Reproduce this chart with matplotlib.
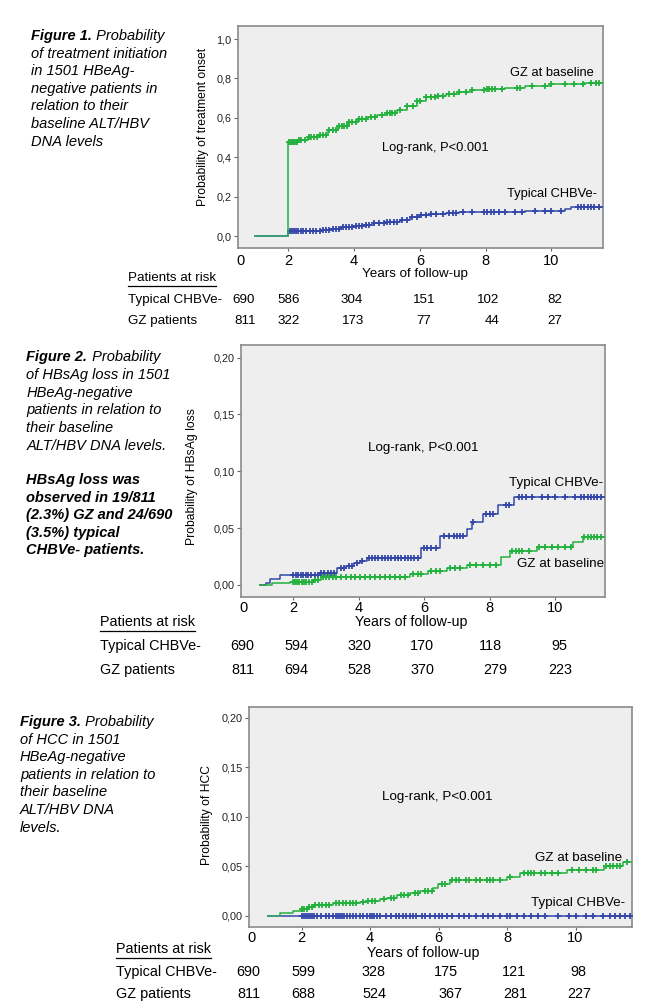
import matplotlib

matplotlib.use("Agg")
import matplotlib.pyplot as plt
import numpy as np
from matplotlib.lines import Line2D

plt.rcParams["font.family"] = ["Liberation Sans", "DejaVu Sans"]

W, H = 669, 1008
GREEN = "#22b13c"
BLUE = "#3447a8"
POOLED = "#3f9c86"
BG = "#eeeeee"

# ---------------- data ----------------
# Figure 1: treatment onset
f1_gz_t = [1.0, 2.0, 2.3, 2.6, 2.9, 3.2, 3.5, 3.8, 4.1, 4.4, 4.7, 5.0, 5.3, 5.6,
           5.9, 6.2, 6.5, 6.8, 7.2, 7.6, 8.0, 8.6, 9.2, 10.0, 11.0, 11.57]
f1_gz_p = [0.0, 0.48, 0.49, 0.505, 0.515, 0.54, 0.56, 0.58, 0.595, 0.605, 0.615,
           0.627, 0.64, 0.66, 0.685, 0.705, 0.712, 0.722, 0.732, 0.74, 0.748,
           0.752, 0.762, 0.77, 0.775, 0.775]
f1_ty_t = [1.0, 2.0, 2.5, 3.0, 3.3, 3.6, 4.0, 4.3, 4.6, 5.0, 5.4, 5.7, 6.0, 6.3,
           6.8, 7.2, 8.8, 9.2, 10.4, 10.6, 11.57]
f1_ty_p = [0.0, 0.025, 0.027, 0.03, 0.035, 0.045, 0.052, 0.06, 0.068, 0.075,
           0.085, 0.097, 0.108, 0.113, 0.118, 0.122, 0.125, 0.13, 0.137, 0.148,
           0.15]
f1_gz_cens = [2.02, 2.06, 2.1, 2.14, 2.18, 2.22, 2.26, 2.32, 2.4, 2.5, 2.62, 2.7,
              2.78, 2.86, 2.95, 3.05, 3.15, 3.25, 3.35, 3.45, 3.55, 3.62, 3.7,
              3.78, 3.86, 3.95, 4.05, 4.15, 4.25, 4.35, 4.5, 4.65, 4.85, 5.0,
              5.08, 5.16, 5.25, 5.4, 5.6, 5.8, 5.9, 6.0, 6.2, 6.35, 6.45, 6.55,
              6.7, 6.9, 7.05, 7.2, 7.4, 7.6, 7.95, 8.05, 8.1, 8.2, 8.3, 8.5,
              8.95, 9.05, 9.4, 9.8, 10.0, 10.4, 10.7, 10.95, 11.2, 11.35, 11.45]
f1_ty_cens = [2.04, 2.1, 2.16, 2.22, 2.3, 2.38, 2.46, 2.55, 2.65, 2.75, 2.85,
              2.95, 3.05, 3.15, 3.25, 3.35, 3.45, 3.55, 3.65, 3.75, 3.85, 3.95,
              4.05, 4.15, 4.25, 4.35, 4.45, 4.6, 4.75, 4.9, 5.0, 5.1, 5.2, 5.3,
              5.45, 5.6, 5.75, 5.9, 6.05, 6.2, 6.35, 6.5, 6.7, 6.9, 7.0, 7.1,
              7.3, 7.6, 7.95, 8.05, 8.15, 8.25, 8.4, 8.6, 8.9, 9.1, 9.5, 9.8,
              10.0, 10.3, 10.8, 10.9, 11.0, 11.1, 11.2, 11.3, 11.45]

# Figure 2: HBsAg loss
f2_ty_t = [0.98, 1.15, 1.3, 1.6, 2.8, 3.35, 3.6, 3.85, 4.05, 4.25, 5.9, 6.5, 7.3,
           7.45, 7.8, 8.25, 8.75, 11.53]
f2_ty_p = [0.0, 0.002, 0.005, 0.009, 0.0105, 0.0145, 0.017, 0.019, 0.021, 0.0235,
           0.0323, 0.0431, 0.0495, 0.0557, 0.0627, 0.0701, 0.0774, 0.0774]
f2_gz_t = [0.98, 1.35, 1.9, 2.6, 2.85, 5.57, 6.13, 6.7, 7.3, 8.35, 8.62, 9.44,
           10.56, 10.87, 11.53]
f2_gz_p = [0.0, 0.0015, 0.0023, 0.0044, 0.0067, 0.0094, 0.0123, 0.0147, 0.0173,
           0.0249, 0.0302, 0.0337, 0.0381, 0.0425, 0.0425]
f2_ty_cens = [2.0, 2.08, 2.15, 2.22, 2.3, 2.38, 2.45, 2.55, 2.65, 2.75, 2.85,
              2.95, 3.05, 3.15, 3.25, 3.45, 3.55, 3.7, 3.8, 3.95, 4.1, 4.3, 4.4,
              4.5, 4.6, 4.7, 4.8, 4.9, 5.0, 5.1, 5.2, 5.3, 5.4, 5.5, 5.6, 5.7,
              5.8, 6.0, 6.1, 6.2, 6.35, 6.6, 6.75, 6.9, 7.0, 7.1, 7.2, 7.5, 7.9,
              8.0, 8.1, 8.5, 8.6, 8.9, 9.0, 9.1, 9.3, 9.6, 9.8, 10.0, 10.3,
              10.6, 10.8, 10.9, 11.0, 11.1, 11.2, 11.3, 11.4]
f2_gz_cens = [2.0, 2.06, 2.12, 2.18, 2.25, 2.32, 2.4, 2.48, 2.56, 2.65, 2.75,
              2.9, 3.0, 3.1, 3.2, 3.3, 3.45, 3.6, 3.75, 3.9, 4.05, 4.2, 4.35,
              4.5, 4.65, 4.8, 4.95, 5.1, 5.25, 5.4, 5.65, 5.8, 5.9, 6.2, 6.35,
              6.5, 6.8, 6.95, 7.1, 7.4, 7.6, 7.8, 8.0, 8.2, 8.7, 8.8, 8.9, 9.0,
              9.2, 9.5, 9.7, 9.9, 10.1, 10.3, 10.5, 10.9, 11.0, 11.1, 11.2, 11.3,
              11.4]

# Figure 3: HCC
f3_gz_t = [1.02, 1.36, 1.75, 2.0, 2.19, 2.34, 2.92, 3.7, 3.9, 4.29, 4.48, 4.77,
           5.16, 5.46, 5.85, 5.99, 6.33, 7.99, 8.38, 9.75, 10.82, 11.4, 11.65]
f3_gz_p = [0.0, 0.0024, 0.0051, 0.0064, 0.0084, 0.011, 0.0125, 0.0138, 0.0152,
           0.0168, 0.0182, 0.0209, 0.0226, 0.0253, 0.0283, 0.032, 0.036, 0.0394,
           0.0428, 0.0462, 0.0502, 0.0545, 0.0545]
f3_ty_t = [1.02, 11.65]
f3_ty_p = [0.0, 0.0]
f3_gz_cens = [2.02, 2.08, 2.14, 2.22, 2.3, 2.4, 2.5, 2.6, 2.7, 2.8, 3.0, 3.1,
              3.2, 3.3, 3.4, 3.5, 3.6, 3.8, 3.95, 4.05, 4.15, 4.4, 4.6, 4.7,
              4.9, 5.0, 5.1, 5.3, 5.4, 5.6, 5.7, 5.8, 6.1, 6.2, 6.4, 6.5, 6.6,
              6.8, 6.9, 7.1, 7.2, 7.4, 7.5, 7.6, 7.8, 8.1, 8.5, 8.6, 8.7, 8.8,
              9.0, 9.1, 9.3, 9.5, 9.9, 10.1, 10.3, 10.5, 10.6, 10.9, 11.0, 11.1,
              11.2, 11.3, 11.5]
f3_ty_cens = [2.0, 2.06, 2.12, 2.18, 2.24, 2.3, 2.36, 2.45, 2.55, 2.7, 2.8, 2.9,
              3.0, 3.06, 3.12, 3.18, 3.25, 3.32, 3.4, 3.5, 3.6, 3.7, 3.8, 3.9,
              4.0, 4.06, 4.12, 4.2, 4.3, 4.45, 4.6, 4.75, 4.85, 4.95, 5.05, 5.15,
              5.25, 5.35, 5.5, 5.6, 5.75, 5.9, 6.0, 6.1, 6.25, 6.4, 6.6, 6.75,
              6.9, 7.1, 7.3, 7.45, 7.6, 7.8, 8.0, 8.1, 8.3, 8.5, 8.7, 8.9, 9.1,
              9.5, 9.8, 10.0, 10.3, 10.5, 10.8, 11.0, 11.15, 11.3, 11.45, 11.6]

risk_years = [0, 2, 4, 6, 8, 10]
f1_risk_ty = [690, 586, 304, 151, 102, 82]
f1_risk_gz = [811, 322, 173, 77, 44, 27]
f2_risk_ty = [690, 594, 320, 170, 118, 95]
f2_risk_gz = [811, 694, 528, 370, 279, 223]
f3_risk_ty = [690, 599, 328, 175, 121, 98]
f3_risk_gz = [811, 688, 524, 367, 281, 227]

f1_caption = ["Probability", "of treatment initiation", "in 1501 HBeAg-",
              "negative patients in", "relation to their", "baseline ALT/HBV",
              "DNA levels"]
f2_caption = ["Probability", "of HBsAg loss in 1501", "HBeAg-negative",
              "patients in relation to", "their baseline", "ALT/HBV DNA levels."]
f2_note = ["HBsAg loss was", "observed in 19/811", "(2.3%) GZ and 24/690",
           "(3.5%) typical", "CHBVe- patients."]
f3_caption = ["Probability", "of HCC in 1501", "HBeAg-negative",
              "patients in relation to", "their baseline", "ALT/HBV DNA",
              "levels."]


def fx(x):
    return x / W


def fy(y):
    return 1 - y / H


def step_value(times, probs, t):
    idx = np.searchsorted(times, t, side="right") - 1
    return np.asarray(probs)[np.clip(idx, 0, len(probs) - 1)]


def km(ax, t, p, cens, color):
    ax.plot(t, p, drawstyle="steps-post", color=color, lw=1.1, zorder=3)
    ax.plot(cens, step_value(t, p, cens), ls="none", marker="+", ms=4.0,
            mew=1.3, color=color, zorder=3)


fig = plt.figure(figsize=(W / 100, H / 100), dpi=100)
renderer = fig.canvas.get_renderer()


def make_axes(box, xlim, ylim, yticks, ylabels, ylabel, ylab_xy, xpad):
    left, right, top, bottom = box
    ax = fig.add_axes([fx(left), fy(bottom), (right - left) / W, (bottom - top) / H])
    ax.set_facecolor(BG)
    ax.set_xlim(*xlim)
    ax.set_ylim(*ylim)
    ax.set_xticks([xlim[0] + 0.08, 2, 4, 6, 8, 10])
    ax.set_xticklabels(["0", "2", "4", "6", "8", "10"], fontsize=10.5)
    ax.set_yticks(yticks)
    ax.set_yticklabels(ylabels, fontsize=7.8, color="#222222")
    ax.tick_params(axis="x", length=2.2, pad=xpad, color="#666666")
    ax.tick_params(axis="y", length=3, pad=1.5, color="#666666")
    ax.xaxis.get_major_ticks()[0].tick1line.set_visible(False)
    for s in ax.spines.values():
        s.set_color("#8a8a8a")
        s.set_linewidth(1.2)
    fig.text(fx(ylab_xy[0]), fy(ylab_xy[1]), ylabel, rotation=90, ha="center",
             va="center", fontsize=8.7)
    return ax


def caption(x, y0, num, lines, note=None, note_y0=None, size=10.5, step=17.6):
    t = fig.text(fx(x), fy(y0), num, fontweight="bold", style="italic",
                 fontsize=size, va="center")
    bb = t.get_window_extent(renderer)
    fig.text(bb.x1 / fig.bbox.width, fy(y0), " " + lines[0], style="italic",
             fontsize=size, va="center")
    for i, line in enumerate(lines[1:], start=1):
        fig.text(fx(x), fy(y0 + i * step), line, style="italic", fontsize=size,
                 va="center")
    if note:
        for i, line in enumerate(note):
            fig.text(fx(x), fy(note_y0 + i * step), line, style="italic",
                     fontweight="bold", fontsize=size, va="center")


def risk_table(x, y_head, y_rows, cols_ty, cols_gz, ty, gz, size):
    t = fig.text(fx(x), fy(y_head), "Patients at risk", fontsize=size, va="center")
    bb = t.get_window_extent(renderer)
    uy = bb.y0 - 1.5
    fig.add_artist(Line2D([bb.x0 / fig.bbox.width, bb.x1 / fig.bbox.width],
                          [uy / fig.bbox.height, uy / fig.bbox.height],
                          color="black", lw=0.9))
    fig.text(fx(x), fy(y_rows[0]), "Typical CHBVe-", fontsize=size, va="center")
    fig.text(fx(x), fy(y_rows[1]), "GZ patients", fontsize=size, va="center")
    for cx, v in zip(cols_ty, ty):
        fig.text(fx(cx), fy(y_rows[0]), str(v), fontsize=size, ha="center", va="center")
    for cx, v in zip(cols_gz, gz):
        fig.text(fx(cx), fy(y_rows[1]), str(v), fontsize=size, ha="center", va="center")


# ---------------- Figure 1 ----------------
ax1 = make_axes((238, 603, 26, 248), (0.47, 11.57), (-0.059, 1.066),
                [0, 0.2, 0.4, 0.6, 0.8, 1.0], ["0,0", "0,2", "0,4", "0,6", "0,8", "1,0"],
                "Probability of treatment onset", (203, 127), 1.8)
km(ax1, f1_ty_t, f1_ty_p, f1_ty_cens, BLUE)
km(ax1, f1_gz_t, f1_gz_p, f1_gz_cens, GREEN)
ax1.plot(f1_gz_t[:2], [0, 0], color=POOLED, lw=1.1, zorder=4)
fig.text(fx(435), fy(148), "Log-rank, P<0.001", fontsize=9.3, ha="center", va="center")
fig.text(fx(594), fy(73), "GZ at baseline", fontsize=9.3, ha="right", va="center")
fig.text(fx(597), fy(194), "Typical CHBVe-", fontsize=9.3, ha="right", va="center")
fig.text(fx(415), fy(274), "Years of follow-up", fontsize=9.6, ha="center", va="center")
caption(31.5, 36, "Figure 1.", f1_caption)
risk_table(128, 278, (300, 321), [244, 289, 352, 424, 488, 555],
           [245, 289, 353, 424, 492, 555], f1_risk_ty, f1_risk_gz, 9.6)

# ---------------- Figure 2 ----------------
ax2 = make_axes((241, 605, 345, 597), (0.40, 11.53), (-0.0106, 0.211),
                [0, 0.05, 0.10, 0.15, 0.20], ["0,00", "0,05", "0,10", "0,15", "0,20"],
                "Probability of HBsAg loss", (192, 477), 0.6)
km(ax2, f2_ty_t, f2_ty_p, f2_ty_cens, BLUE)
km(ax2, f2_gz_t, f2_gz_p, f2_gz_cens, GREEN)
fig.text(fx(423), fy(448), "Log-rank, P<0.001", fontsize=9.6, ha="center", va="center")
fig.text(fx(603), fy(483), "Typical CHBVe-", fontsize=9.6, ha="right", va="center")
fig.text(fx(604), fy(564), "GZ at baseline", fontsize=9.6, ha="right", va="center")
fig.text(fx(411), fy(622), "Years of follow-up", fontsize=10.2, ha="center", va="center")
caption(26.5, 357.5, "Figure 2.", f2_caption, f2_note, 480)
risk_table(99.5, 622, (646, 670), [242, 296, 359, 422, 490, 559],
           [243, 296, 359, 422, 495, 560], f2_risk_ty, f2_risk_gz, 10.4)

# ---------------- Figure 3 ----------------
ax3 = make_axes((249, 632, 707, 927), (0.46, 11.65), (-0.0114, 0.2108),
                [0, 0.05, 0.10, 0.15, 0.20], ["0,00", "0,05", "0,10", "0,15", "0,20"],
                "Probability of HCC", (207, 815), 0.8)
km(ax3, f3_ty_t, f3_ty_p, f3_ty_cens, BLUE)
km(ax3, f3_gz_t, f3_gz_p, f3_gz_cens, GREEN)
ax3.plot(f3_gz_t[:2], [0, 0], color=POOLED, lw=1.1, zorder=4)
fig.text(fx(437), fy(797), "Log-rank, P<0.001", fontsize=9.6, ha="center", va="center")
fig.text(fx(622), fy(858), "GZ at baseline", fontsize=9.6, ha="right", va="center")
fig.text(fx(625), fy(903), "Typical CHBVe-", fontsize=9.6, ha="right", va="center")
fig.text(fx(423), fy(953), "Years of follow-up", fontsize=10.2, ha="center", va="center")
caption(20, 722, "Figure 3.", f3_caption)
risk_table(115.5, 949, (972, 994), [248, 303, 374, 446, 514, 578],
           [249, 303, 374, 450, 515, 579], f3_risk_ty, f3_risk_gz, 10.4)

fig.savefig("out.png", dpi=100)
